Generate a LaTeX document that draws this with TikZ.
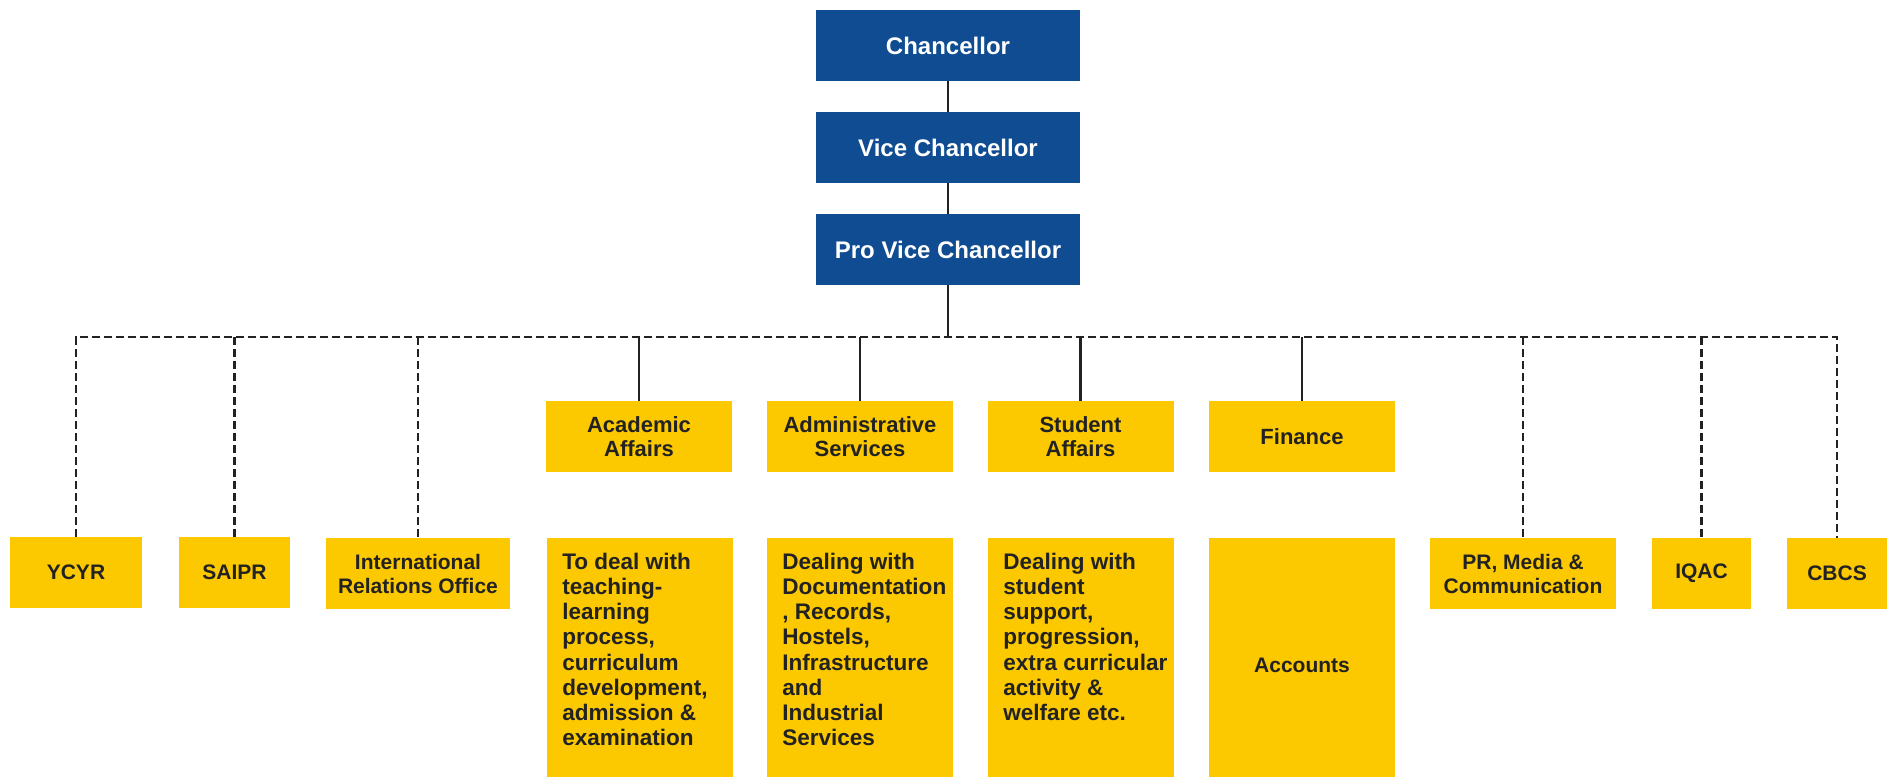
\documentclass[tikz,border=0pt]{standalone}
\usepackage{fontspec}
\setmainfont{Liberation Sans}
\usepackage{tikz}

\definecolor{uniblue}{HTML}{0F4C92}
\definecolor{unigold}{HTML}{FCC800}
\definecolor{inkgray}{HTML}{222222}

\newcommand{\dutytext}[1]{\parbox[t][190.5pt][t]{139.5pt}{\raggedright\leftskip=11.25pt\rule{0pt}{23.25pt}#1}}

\begin{document}
\begin{tikzpicture}[x=0.75pt,y=-0.75pt]
    \tikzstyle{blue box}=[fill=uniblue,text=white,font=\bfseries\fontsize{18pt}{21pt}\selectfont,minimum width=198pt,minimum height=53.25pt,inner sep=0]
    \tikzstyle{office box}=[fill=unigold,text=inkgray,font=\bfseries\fontsize{16.5pt}{18pt}\selectfont,align=center,minimum width=139.5pt,minimum height=53.25pt,inner sep=0]
    \tikzstyle{side box}=[fill=unigold,text=inkgray,font=\bfseries\fontsize{15.75pt}{18pt}\selectfont,align=center,minimum height=53.25pt,inner sep=0]
    \tikzstyle{duty box}=[fill=unigold,text=inkgray,font=\bfseries\fontsize{16.9pt}{18.9pt}\selectfont,anchor=north west,inner sep=0]
    \tikzstyle{solid link}=[draw=inkgray,line width=2pt]
    \tikzstyle{dashed link}=[draw=inkgray,line width=1.6pt,dash pattern=on 6pt off 3pt]

    \useasboundingbox (0,0) rectangle (1892,776);
    \clip (0,0) rectangle (1892,776);

    % top of the chart
    \node[blue box] (0) at (948,45.5) {Chancellor};
    \node[blue box] (1) at (948,147.5) {Vice Chancellor};
    \node[blue box] (2) at (948,249.5) {Pro Vice Chancellor};
    \coordinate (bus) at (948,337);

    % main offices
    \node[office box] (acad) at (639,436.5) {Academic\\Affairs};
    \node[office box] (admin) at (860,436.5) {Administrative\\Services};
    \node[office box] (stud) at (1080.5,436.5) {Student\\Affairs};
    \node[office box] (fin) at (1302,436.5) {Finance};

    % what each office does
    \node[duty box] (acadduty) at (547,538) {\dutytext{To deal with\\teaching-\\learning\\process,\\curriculum\\development,\\admission \&\\examination}};
    \node[duty box] (adminduty) at (767,538) {\dutytext{Dealing with\\Documentation\\, Records,\\Hostels,\\Infrastructure\\and\\Industrial\\Services}};
    \node[duty box] (studduty) at (988,538) {\dutytext{Dealing with\\student\\support,\\progression,\\extra curricular\\activity \&\\welfare etc.}};
    \node[side box,minimum width=139.5pt,minimum height=190.5pt,anchor=north] (finduty) at (1302,538) {Accounts};

    % side offices
    \node[side box,minimum width=99pt] (ycyr) at (76,572.5) {YCYR};
    \node[side box,minimum width=83.25pt] (saipr) at (234.5,572.5) {SAIPR};
    \node[side box,minimum width=138pt] (iro) at (418,573.5) {International\\Relations Office};
    \node[side box,minimum width=139.5pt] (pr) at (1523,573.5) {PR, Media \&\\Communication};
    \node[side box,minimum width=74.25pt] (iqac) at (1701.5,573.5) {IQAC};
    \node[side box,minimum width=75pt] (cbcs) at (1837,573.5) {CBCS};

    % connectors
    \draw[solid link] (0) -- (1);
    \draw[solid link] (1) -- (2);
    \draw[solid link] (2) -- (bus);
    \draw[dashed link] (ycyr.north) |- (bus) -| (cbcs.north);
    \foreach \n in {saipr,iro,pr,iqac}
        \draw[dashed link] (bus -| \n.north) -- (\n.north);
    \foreach \n in {acad,admin,stud,fin}
        \draw[solid link] (bus -| \n.north) -- (\n.north);
\end{tikzpicture}
\end{document}
